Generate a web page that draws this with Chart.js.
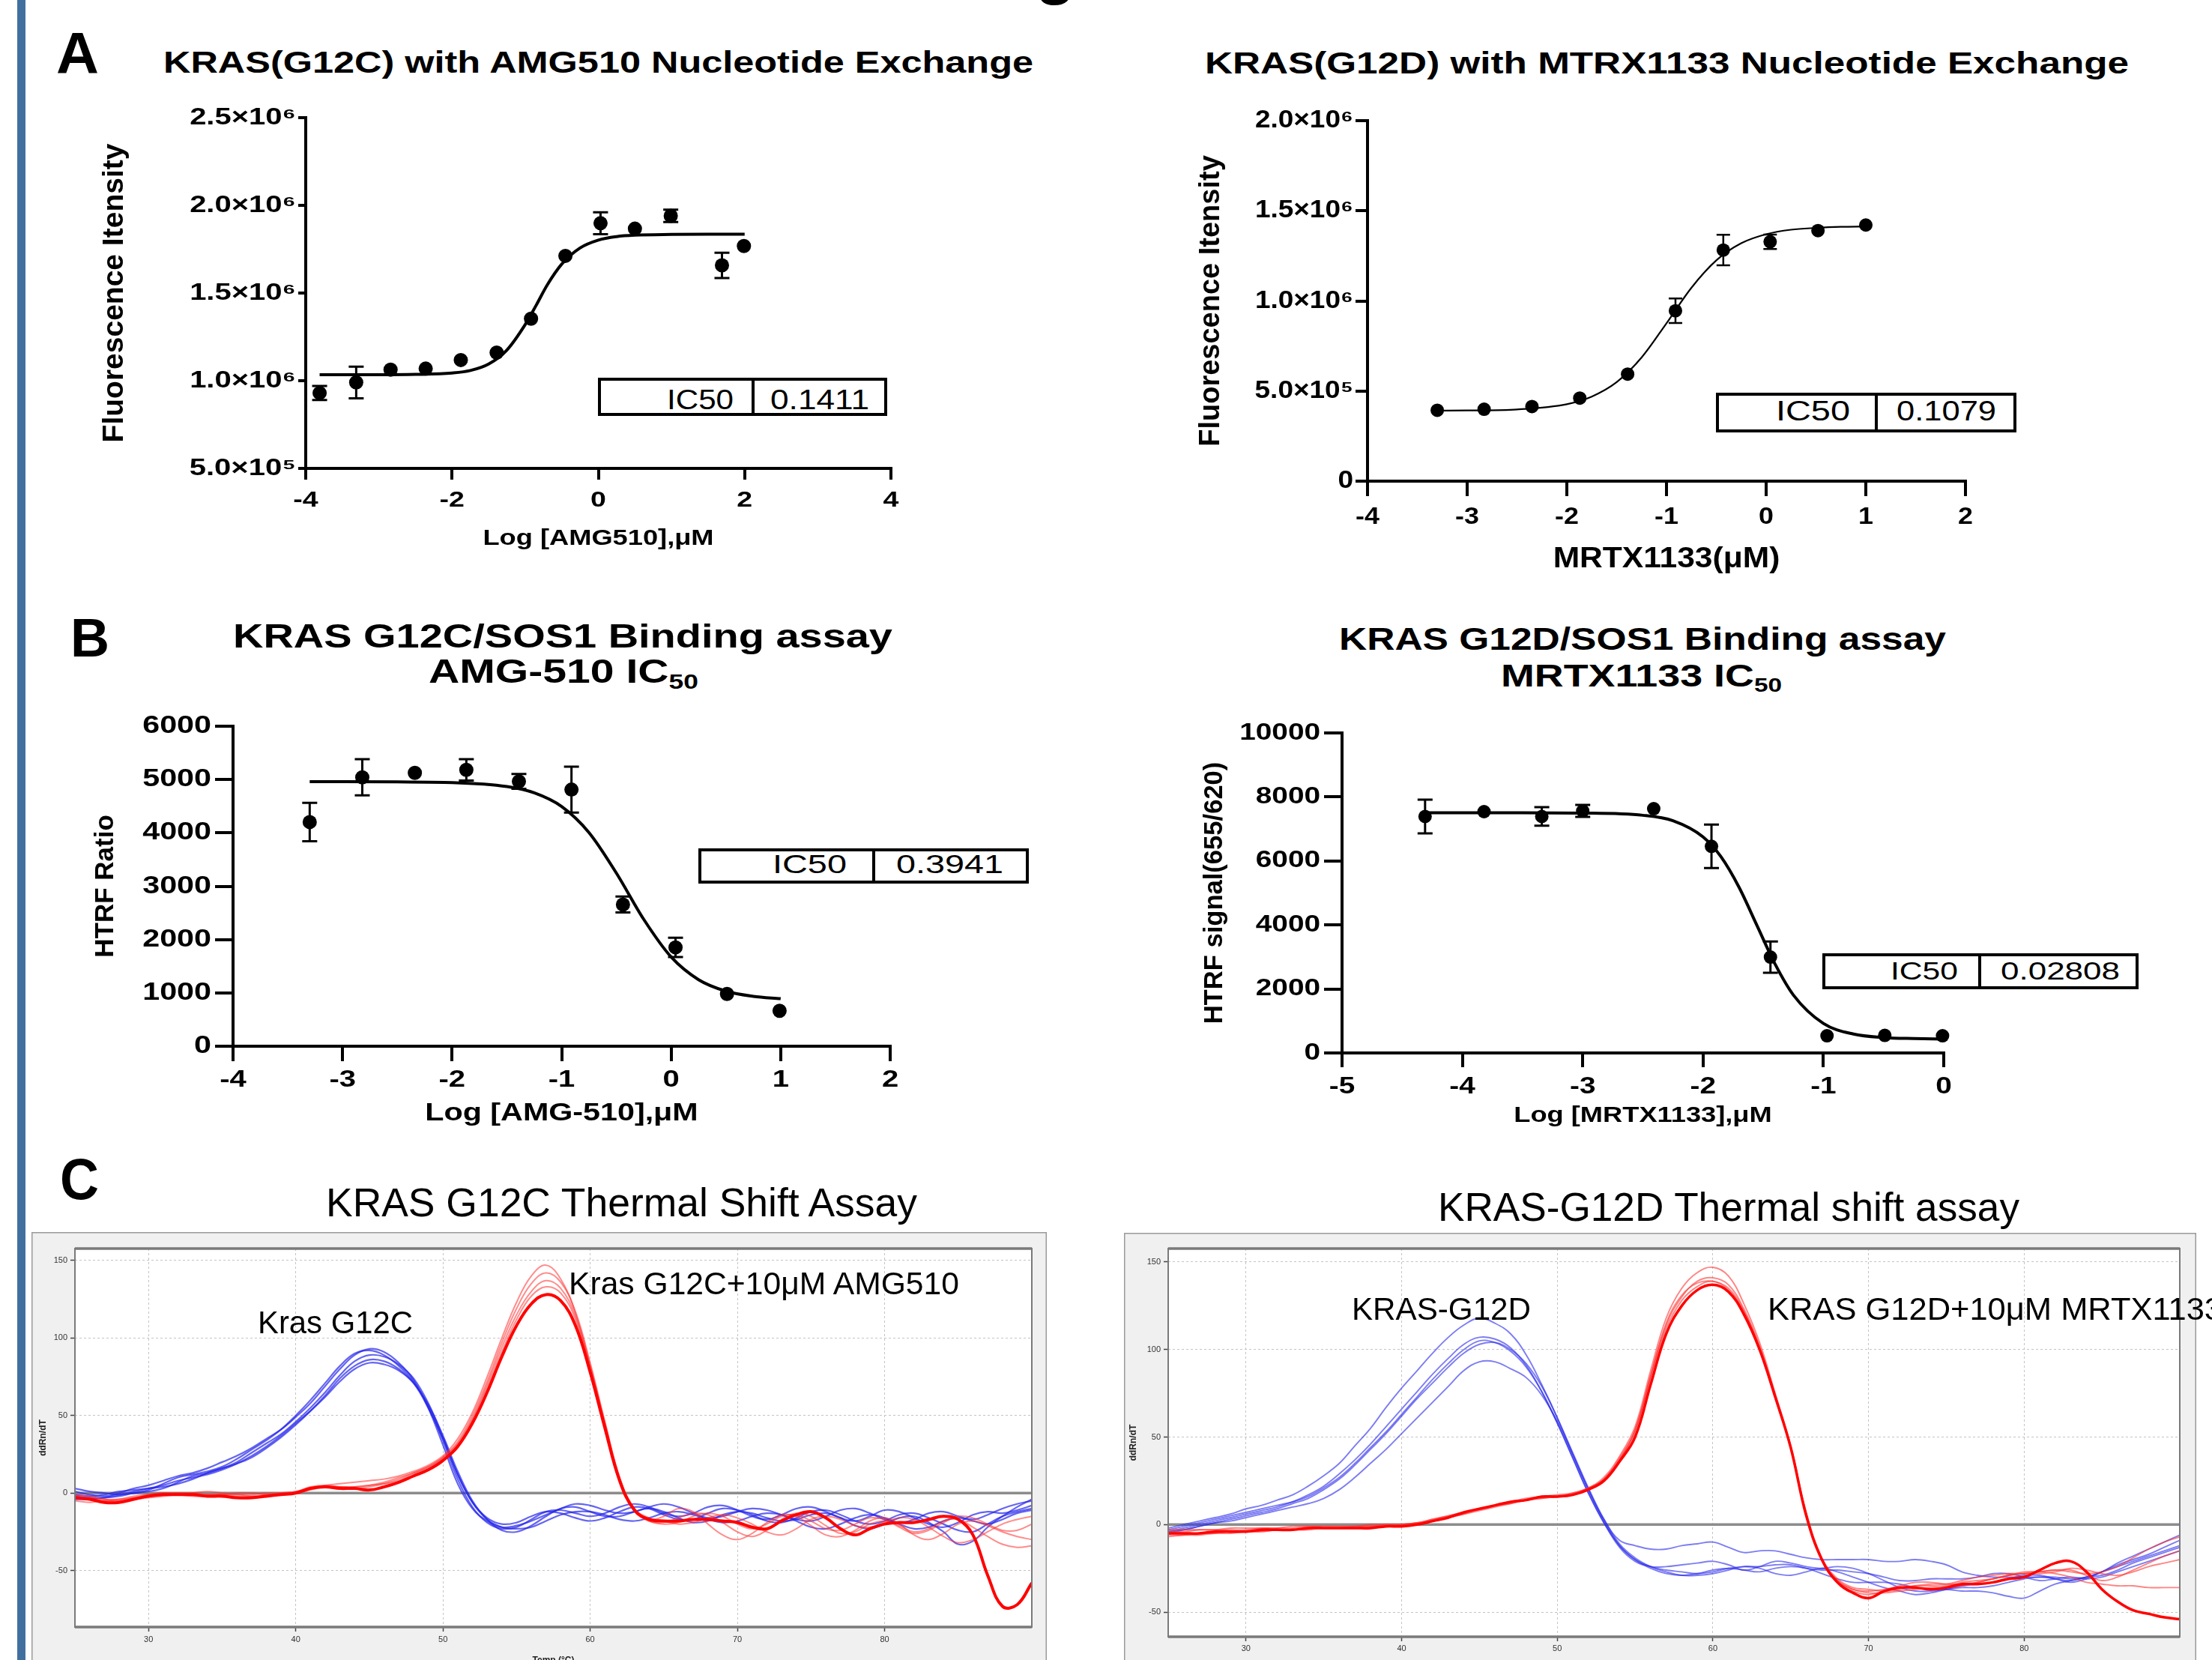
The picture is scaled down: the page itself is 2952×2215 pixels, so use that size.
<!DOCTYPE html>
<html><head><meta charset="utf-8">
<script src="https://cdn.jsdelivr.net/npm/chart.js@4.4.1/dist/chart.umd.min.js"></script>
<style>
html,body{margin:0;padding:0;background:#fff;}
body{width:2952px;height:2215px;overflow:hidden;position:relative;font-family:"Liberation Sans",Arial,sans-serif;}
.t{position:absolute;white-space:nowrap;line-height:1;color:#000;z-index:5;}
.t sub{font-size:0.62em;vertical-align:-0.28em;line-height:0;}
canvas.c{position:absolute;}
.box{position:absolute;border:4px solid #000;box-sizing:border-box;z-index:4;background:#fff;}
.bar{position:absolute;left:23px;top:0;width:11px;height:2215px;background:#41709e;}
</style></head><body>
<div class="bar"></div>
<script>
// ---------------- DATA ----------------
// Panel A left: KRAS(G12C) with AMG510 nucleotide exchange
const aL_x   = [-3.81,-3.31,-2.84,-2.36,-1.88,-1.39,-0.92,-0.45,0.03,0.50,0.99,1.69,1.99];
const aL_y   = [0.930e6,0.990e6,1.063e6,1.069e6,1.118e6,1.160e6,1.354e6,1.712e6,1.898e6,1.867e6,1.940e6,1.658e6,1.768e6];
const aL_err = [0.040e6,0.090e6,0,0,0,0,0,0,0.062e6,0,0.035e6,0.072e6,0];
const aL_fitX = [-3.81,-3.0,-2.5,-2.0,-1.75,-1.5,-1.25,-1.0,-0.85,-0.7,-0.5,-0.25,0,0.25,0.5,1.0,1.5,2.0];
const aL_fitY = [1.034e6,1.034e6,1.036e6,1.044e6,1.058e6,1.095e6,1.175e6,1.320e6,1.430e6,1.545e6,1.665e6,1.757e6,1.802e6,1.822e6,1.830e6,1.834e6,1.835e6,1.835e6];
const aL_xTicks = [-4,-2,0,2,4];
const aL_yTicks = [5e5,1e6,1.5e6,2e6,2.5e6];
const aL_yLabels = ['5.0×10⁵','1.0×10⁶','1.5×10⁶','2.0×10⁶','2.5×10⁶'];

// Panel A right: KRAS(G12D) with MRTX1133 nucleotide exchange
const aR_x   = [-3.30,-2.83,-2.35,-1.87,-1.39,-0.91,-0.43,0.04,0.52,1.00];
const aR_y   = [0.393e6,0.399e6,0.414e6,0.461e6,0.594e6,0.945e6,1.282e6,1.328e6,1.390e6,1.421e6];
const aR_err = [0,0,0,0,0,0.068e6,0.085e6,0.040e6,0,0];
const aR_fitX = [-3.3,-3.0,-2.5,-2.0,-1.75,-1.5,-1.25,-1.0,-0.75,-0.5,-0.25,0,0.25,0.5,0.75,1.0];
const aR_fitY = [0.391e6,0.392e6,0.398e6,0.427e6,0.469e6,0.549e6,0.686e6,0.876e6,1.073e6,1.225e6,1.320e6,1.370e6,1.395e6,1.405e6,1.411e6,1.413e6];
const aR_xTicks = [-4,-3,-2,-1,0,1,2];
const aR_yTicks = [0,5e5,1e6,1.5e6,2e6];
const aR_yLabels = ['0','5.0×10⁵','1.0×10⁶','1.5×10⁶','2.0×10⁶'];

// Panel B left: KRAS G12C/SOS1 binding, AMG-510
const bL_x   = [-3.30,-2.82,-2.34,-1.87,-1.39,-0.91,-0.44,0.04,0.51,0.99];
const bL_y   = [4203,5042,5126,5182,4965,4811,2657,1853,979,664];
const bL_err = [360,340,0,200,140,430,150,180,0,0];
const bL_fitX = [-3.3,-3.0,-2.5,-2.0,-1.5,-1.25,-1.0,-0.75,-0.5,-0.25,0,0.25,0.5,0.75,1.0];
const bL_fitY = [4960,4959,4955,4944,4869,4751,4495,4006,3246,2378,1673,1248,1033,935,892];
const bL_xTicks = [-4,-3,-2,-1,0,1,2];
const bL_yTicks = [0,1000,2000,3000,4000,5000,6000];

// Panel B right: KRAS G12D/SOS1 binding, MRTX1133
const bR_x   = [-4.31,-3.82,-3.34,-3.00,-2.41,-1.93,-1.44,-0.97,-0.49,-0.01];
const bR_y   = [7389,7541,7389,7564,7634,6457,2995,536,548,536];
const bR_err = [525,0,290,185,0,680,490,0,0,0];
const bR_fitX = [-4.31,-3.5,-3.0,-2.5,-2.25,-2.0,-1.85,-1.7,-1.55,-1.4,-1.25,-1.0,-0.75,-0.5,-0.25,0];
const bR_fitY = [7506,7505,7497,7427,7256,6750,6126,5171,3968,2765,1813,922,590,481,450,436];
const bR_xTicks = [-5,-4,-3,-2,-1,0];
const bR_yTicks = [0,2000,4000,6000,8000,10000];

// Panel C: thermal shift derivative curves (ddRn/dT vs temperature)
const T = [25,26,27,28,29,30,31,32,33,34,35,36,37,38,39,40,41,42,43,44,45,46,47,48,49,50,51,52,53,54,55,56,57,58,59,60,61,62,63,64,65,66,67,68,69,70,71,72,73,74,75,76,77,78,79,80,81,82,83,84,85,86,87,88,89,90];
const thermXTicks = [30,40,50,60,70,80];
const thermYTicks = [-50,0,50,100,150];

const cL_blue1 = [1,-1,-2,0,3,5,8,11,13,16,20,24,29,35,41,49,58,69,80,89,93,91,84,73,55,31,6,-10,-18,-22,-21,-18,-14,-10,-7,-8,-11,-13,-12,-9,-7,-9,-13,-16,-15,-12,-10,-11,-14,-17,-18,-15,-11,-10,-13,-17,-19,-17,-13,-12,-15,-17,-14,-10,-7,-5];
const cL_blue2 = [3,1,0,-1,0,2,6,10,12,14,17,22,28,34,41,50,60,71,82,90,92,89,82,72,56,34,9,-9,-19,-23,-22,-17,-12,-11,-13,-15,-13,-9,-7,-9,-13,-15,-13,-9,-8,-11,-15,-17,-14,-10,-9,-12,-16,-18,-15,-11,-12,-16,-20,-22,-19,-14,-12,-13,-11,-8];
const cL_blue3 = [-2,-3,-3,-2,0,1,3,7,11,13,16,20,26,32,38,46,55,65,76,85,89,88,83,74,58,36,12,-6,-16,-20,-19,-15,-12,-13,-16,-18,-16,-12,-9,-10,-14,-17,-17,-13,-10,-11,-14,-18,-19,-16,-12,-11,-14,-18,-20,-18,-14,-13,-16,-20,-24,-25,-20,-15,-12,-10];
const cL_blue4 = [-4,-4,-3,-1,1,3,5,8,10,12,15,19,24,30,37,45,53,62,72,80,84,83,79,71,57,37,14,-5,-17,-24,-25,-21,-15,-10,-9,-12,-15,-15,-12,-10,-12,-16,-19,-18,-14,-12,-13,-16,-18,-17,-14,-13,-16,-21,-23,-20,-16,-15,-19,-25,-33,-31,-22,-15,-9,-4];
const cL_blue5 = [-1,-2,-1,1,2,3,4,6,9,13,16,19,23,29,36,44,53,63,74,82,86,85,80,71,55,35,12,-6,-17,-22,-23,-22,-18,-14,-12,-12,-14,-17,-18,-16,-13,-12,-14,-17,-19,-18,-15,-13,-14,-18,-22,-23,-20,-16,-14,-16,-20,-23,-22,-18,-16,-18,-20,-17,-13,-11];
const cL_red1  = [-3,-4,-6,-6,-4,-2,-1,-1,-1,-2,-2,-3,-3,-2,-1,0,3,4,3,3,2,4,7,11,15,21,30,45,65,88,108,122,128,124,108,78,42,8,-11,-17,-18,-18,-17,-17,-18,-19,-22,-23,-18,-14,-12,-16,-23,-27,-23,-20,-19,-19,-17,-15,-17,-27,-53,-73,-72,-58];
const cL_red2  = [-2,-3,-4,-4,-3,-1,0,0,-1,-1,-1,-2,-2,-1,0,1,3,5,6,7,8,9,11,14,18,24,35,52,75,100,123,140,147,138,116,82,45,10,-10,-17,-15,-10,-12,-20,-27,-30,-26,-19,-14,-15,-21,-27,-28,-24,-18,-16,-20,-27,-30,-26,-20,-18,-21,-25,-28,-30];
const cL_red3  = [-5,-6,-5,-4,-2,-1,0,-1,-2,-2,-1,0,0,-1,-1,0,2,4,4,4,5,7,10,13,17,23,33,50,72,97,119,135,142,136,117,84,46,10,-11,-18,-19,-16,-13,-14,-19,-25,-28,-24,-17,-13,-15,-21,-26,-25,-20,-18,-21,-25,-23,-18,-17,-22,-28,-33,-35,-34];
const cL_red4  = [-1,-2,-4,-5,-4,-3,-2,-1,0,1,0,-1,-1,0,0,1,4,5,4,3,4,6,9,13,17,23,32,48,70,94,115,130,137,132,114,82,45,9,-11,-18,-20,-19,-15,-13,-15,-20,-23,-20,-15,-14,-18,-23,-24,-20,-16,-17,-22,-26,-24,-19,-15,-16,-20,-24,-24,-20];
const cL_red5  = [-2,-4,-5,-5,-3,-2,-1,0,0,-1,-1,-1,-2,-2,-1,0,3,4,4,4,5,6,8,12,16,22,31,47,68,91,112,127,133,129,112,80,44,9,-10,-16,-18,-20,-19,-16,-14,-16,-20,-25,-27,-23,-17,-15,-17,-21,-22,-19,-16,-17,-22,-28,-32,-30,-25,-20,-17,-15];

const cR_blue1 = [-2,0,2,4,6,9,11,14,17,22,28,35,45,55,67,78,88,98,107,114,118,115,109,97,80,61,40,20,3,-9,-12,-14,-14,-12,-11,-10,-13,-16,-15,-15,-17,-19,-20,-20,-20,-20,-21,-21,-20,-21,-23,-27,-29,-30,-30,-30,-30,-30,-31,-30,-29,-26,-22,-19,-16,-13];
const cR_blue2 = [-4,-2,0,2,4,6,8,10,13,17,22,29,37,46,56,66,76,86,95,103,107,106,101,91,76,58,38,18,1,-12,-20,-24,-26,-27,-28,-27,-25,-24,-24,-23,-23,-25,-26,-26,-27,-28,-30,-32,-32,-31,-31,-31,-30,-28,-28,-30,-32,-31,-30,-31,-30,-27,-24,-21,-18,-15];
const cR_blue3 = [-3,-1,1,3,5,7,9,11,13,16,21,27,35,44,53,63,73,83,92,100,105,104,99,90,76,58,38,18,1,-13,-21,-24,-24,-23,-22,-21,-23,-26,-24,-21,-22,-24,-25,-24,-25,-28,-32,-36,-38,-38,-37,-36,-36,-35,-33,-31,-30,-31,-32,-30,-27,-24,-21,-18,-15,-12];
const cR_blue4 = [-5,-3,-1,1,3,5,7,9,12,15,20,26,34,43,52,62,72,81,90,98,103,104,100,92,79,61,41,21,3,-11,-19,-24,-27,-29,-29,-28,-26,-24,-25,-28,-29,-27,-25,-27,-30,-33,-36,-38,-40,-39,-37,-35,-34,-33,-31,-29,-29,-31,-33,-31,-27,-23,-20,-17,-13,-9];
const cR_blue5 = [-4,-3,-1,1,2,4,6,8,10,12,15,20,27,35,43,52,61,70,79,88,93,93,89,84,74,59,40,20,2,-12,-20,-25,-28,-29,-28,-26,-25,-26,-27,-25,-24,-25,-28,-31,-33,-33,-33,-34,-36,-37,-37,-38,-38,-39,-41,-42,-38,-34,-32,-30,-27,-22,-18,-14,-10,-6];
const cR_red1  = [-5,-5,-5,-4,-4,-4,-3,-3,-3,-2,-2,-2,-2,-2,-1,-1,0,2,4,7,9,11,13,14,16,16,17,20,25,36,50,80,109,125,134,137,133,120,100,73,44,5,-20,-33,-39,-42,-38,-36,-36,-37,-36,-34,-34,-33,-31,-30,-26,-22,-21,-27,-37,-44,-49,-51,-53,-54];
const cR_red2  = [-4,-4,-3,-3,-3,-3,-2,-2,-2,-1,-1,-1,-1,-1,0,0,1,3,5,7,9,11,13,15,16,17,18,21,27,39,56,88,118,135,144,147,142,126,104,75,45,7,-19,-31,-36,-37,-38,-37,-35,-34,-34,-32,-30,-29,-28,-28,-27,-26,-27,-28,-27,-24,-19,-14,-10,-7];
const cR_red3  = [-6,-6,-5,-5,-4,-4,-4,-3,-3,-3,-2,-2,-2,-1,-1,-1,0,2,4,6,9,11,12,14,15,16,17,20,26,37,54,85,114,130,139,141,137,123,102,74,44,6,-20,-32,-37,-38,-37,-35,-33,-33,-34,-34,-33,-31,-29,-27,-27,-28,-30,-33,-34,-35,-35,-36,-36,-36];
const cR_red4  = [-3,-3,-3,-3,-2,-2,-2,-2,-1,-1,-1,-1,-1,0,0,0,1,3,5,7,9,11,13,14,16,16,18,21,26,38,54,85,115,131,138,139,135,122,101,74,44,6,-20,-32,-37,-39,-39,-38,-37,-36,-36,-35,-33,-31,-29,-28,-28,-27,-25,-26,-28,-29,-27,-24,-22,-20];
const cR_red5  = [-7,-6,-6,-5,-5,-4,-4,-3,-3,-2,-2,-2,-1,-1,-1,0,1,2,4,6,8,10,12,14,15,16,17,20,25,37,53,84,112,128,136,139,134,121,100,73,44,6,-20,-33,-38,-40,-38,-36,-35,-35,-35,-33,-32,-31,-29,-28,-27,-26,-26,-29,-32,-30,-26,-22,-18,-15];

// ---------------- HELPERS ----------------
Chart.defaults.font.family = '"Liberation Sans", Arial, sans-serif';
Chart.defaults.color = '#000';

function addCanvas(left, top, w, h) {
  const c = document.createElement('canvas');
  c.width = w; c.height = h; c.className = 'c';
  c.style.left = left + 'px'; c.style.top = top + 'px';
  c.style.width = w + 'px'; c.style.height = h + 'px';
  document.body.appendChild(c);
  return c;
}

// horizontally widened text rendering (the reference figure's lettering is stretched)
const stretchPlugin = {
  id: 'stretch',
  beforeInit(chart, args, opts) {
    const k = (opts && opts.k) || 1;
    const ctx = chart.ctx;
    if (k === 1 || ctx.__patched) return;
    ctx.__patched = true;
    const orig = ctx.fillText;
    ctx.fillText = function (t, x, y, mw) {
      const m = this.getTransform();
      if (Math.abs(m.b) < 1e-9 && Math.abs(m.c) < 1e-9) {
        this.save(); this.translate(x, y); this.scale(k, 1);
        orig.call(this, t, 0, 0);
        this.restore();
      } else {
        orig.call(this, t, x, y, mw);
      }
    };
  }
};

const errPlugin = {
  id: 'errbars',
  beforeDatasetsDraw(chart, args, opts) {
    const ctx = chart.ctx, xs = chart.scales.x, ys = chart.scales.y;
    chart.data.datasets.forEach(ds => {
      if (!ds.errors) return;
      ctx.save();
      ctx.strokeStyle = '#000'; ctx.lineWidth = opts.lw || 3;
      const cap = opts.cap || 10;
      ds.data.forEach((p, j) => {
        const e = ds.errors[j];
        if (!e) return;
        const x = xs.getPixelForValue(p.x);
        const y1 = ys.getPixelForValue(p.y + e), y2 = ys.getPixelForValue(p.y - e);
        ctx.beginPath();
        ctx.moveTo(x, y1); ctx.lineTo(x, y2);
        ctx.moveTo(x - cap, y1); ctx.lineTo(x + cap, y1);
        ctx.moveTo(x - cap, y2); ctx.lineTo(x + cap, y2);
        ctx.stroke();
      });
      ctx.restore();
    });
  }
};

function doseChart(o) {
  const cv = addCanvas(o.left, o.top, o.w, o.h);
  const datasets = [
    { type: 'line', data: o.fitX.map((x, i) => ({ x, y: o.fitY[i] })), borderColor: '#000', borderWidth: o.lw,
      pointRadius: 0, cubicInterpolationMode: 'monotone', fill: false, order: 2 },
    { type: 'scatter', data: o.xs.map((x, i) => ({ x, y: o.ys[i] })), errors: o.err, backgroundColor: '#000',
      borderColor: '#000', borderWidth: 0, pointRadius: o.pr, clip: false, order: 1 }
  ];
  new Chart(cv, {
    type: 'scatter',
    data: { datasets },
    options: {
      responsive: false, animation: false, events: [],
      layout: { padding: { left: 0, top: o.padT, right: o.padR, bottom: 0 } },
      plugins: { legend: { display: false }, tooltip: { enabled: false }, stretch: { k: o.k },
                 errbars: { lw: o.elw, cap: o.cap } },
      scales: {
        x: {
          type: 'linear', min: o.xTicks[0], max: o.xTicks[o.xTicks.length - 1],
          afterBuildTicks: s => { s.ticks = o.xTicks.map(v => ({ value: v })); },
          afterFit: s => { s.height = o.xH; },
          grid: { drawOnChartArea: false, drawTicks: true, tickLength: o.xTL, lineWidth: o.aw, tickWidth: o.aw, color: '#000', tickColor: '#000' },
          border: { display: true, width: o.aw, color: '#000' },
          ticks: { font: { size: o.xtFs, weight: 'bold' }, color: '#000', padding: o.xtPad, maxRotation: 0, autoSkip: false,
                   callback: v => String(v) },
          title: { display: true, text: o.xTitle, font: { size: o.xTitleFs, weight: 'bold' }, color: '#000',
                   padding: { top: 0, bottom: o.xTitlePadB } }
        },
        y: {
          type: 'linear', min: o.yTicks[0], max: o.yTicks[o.yTicks.length - 1],
          afterBuildTicks: s => { s.ticks = o.yTicks.map(v => ({ value: v })); },
          afterFit: s => { s.width = o.yW; },
          grid: { drawOnChartArea: false, drawTicks: true, tickLength: o.yTL, lineWidth: o.aw, tickWidth: o.aw, color: '#000', tickColor: '#000' },
          border: { display: true, width: o.aw, color: '#000' },
          ticks: { font: { size: o.ytFs, weight: 'bold' }, color: '#000', padding: o.ytPad, autoSkip: false,
                   callback: (v, i) => (o.yLabels ? o.yLabels[i] : String(v)) },
          title: { display: true, text: o.yTitle, font: { size: o.yTitleFs, weight: 'bold' }, color: '#000',
                   padding: { top: o.yTitlePadT, bottom: 0 } }
        }
      }
    },
    plugins: [stretchPlugin, errPlugin]
  });
}

const framePlugin = {
  id: 'frame',
  beforeDraw(chart) {
    const { ctx, chartArea: a, width, height } = chart;
    ctx.save();
    ctx.fillStyle = '#f0f0f0'; ctx.fillRect(0, 0, width, height);
    ctx.strokeStyle = '#9a9a9a'; ctx.lineWidth = 1.5; ctx.strokeRect(0.75, 0.75, width - 1.5, height - 1.5);
    ctx.fillStyle = '#fff'; ctx.fillRect(a.left, a.top, a.right - a.left, a.bottom - a.top);
    ctx.restore();
  },
  beforeDatasetsDraw(chart) {
    const { ctx, chartArea: a } = chart;
    const y0 = chart.scales.y.getPixelForValue(0);
    ctx.save(); ctx.strokeStyle = '#8c8c8c'; ctx.lineWidth = 3.5;
    ctx.beginPath(); ctx.moveTo(a.left, y0); ctx.lineTo(a.right, y0); ctx.stroke(); ctx.restore();
  },
  afterDraw(chart) {
    const { ctx, chartArea: a } = chart;
    ctx.save(); ctx.strokeStyle = '#7a7a7a';
    ctx.lineWidth = 2; ctx.strokeRect(a.left, a.top, a.right - a.left, a.bottom - a.top);
    ctx.lineWidth = 3.5;
    ctx.beginPath(); ctx.moveTo(a.left, a.top); ctx.lineTo(a.right, a.top);
    ctx.moveTo(a.left, a.bottom); ctx.lineTo(a.right, a.bottom); ctx.stroke();
    ctx.restore();
  }
};

function thermChart(o) {
  const cv = addCanvas(o.left, o.top, o.w, o.h);
  const ds = [];
  const mk = (arr, color, w, order) => ({ type: 'line', data: T.map((t, i) => ({ x: t, y: arr[i] })), borderColor: color,
    borderWidth: w, pointRadius: 0, tension: 0.4, fill: false, order });
  o.blue.forEach(a => ds.push(mk(a, o.blueC, o.blueW, 3)));
  o.redThin.forEach(a => ds.push(mk(a, o.redC, o.redW, 2)));
  ds.push(mk(o.redThick, '#ff0000', o.thickW, 1));
  const grid = { color: '#c4c4c4', lineWidth: 1, drawTicks: true, tickLength: 6, tickColor: '#444', tickWidth: 1.5, tickBorderDash: [] };
  new Chart(cv, {
    type: 'line',
    data: { datasets: ds },
    options: {
      responsive: false, animation: false, events: [],
      layout: { padding: { left: 0, top: o.padT, right: o.padR, bottom: 0 } },
      plugins: { legend: { display: false }, tooltip: { enabled: false } },
      scales: {
        x: { type: 'linear', min: 25, max: 90,
             afterBuildTicks: s => { s.ticks = thermXTicks.map(v => ({ value: v })); },
             afterFit: s => { s.height = o.xH; },
             grid, border: { display: false, dash: [3, 3] },
             ticks: { font: { size: 11 }, color: '#333', padding: o.xtPad, maxRotation: 0, autoSkip: false },
             title: { display: true, text: 'Temp (°C)', font: { size: 12, weight: 'bold' }, color: '#222', padding: { top: 0, bottom: o.xTitlePadB } } },
        y: { type: 'linear', min: o.ymin, max: o.ymax,
             afterBuildTicks: s => { s.ticks = thermYTicks.map(v => ({ value: v })); },
             afterFit: s => { s.width = o.yW; },
             grid, border: { display: false, dash: [3, 3] },
             ticks: { font: { size: 11 }, color: '#333', padding: 4, autoSkip: false },
             title: { display: true, text: 'ddRn/dT', font: { size: 12, weight: 'bold' }, color: '#222', padding: { top: o.yTitlePadT, bottom: 0 } } }
      }
    },
    plugins: [framePlugin]
  });
}

function txt(html, o) {
  const d = document.createElement('div');
  d.className = 't'; d.innerHTML = html;
  d.style.fontSize = o.size + 'px';
  d.style.fontWeight = o.bold ? 'bold' : 'normal';
  d.style.top = (o.base - 0.8465 * o.size) + 'px';
  d.style.left = o.left + 'px';
  document.body.appendChild(d);
  const w = d.getBoundingClientRect().width;
  const sx = o.w ? o.w / w : 1;
  d.style.transformOrigin = '0 0';
  d.style.transform = 'scaleX(' + sx + ')';
  return d;
}

function ic50Box(o) {
  const b = document.createElement('div');
  b.className = 'box';
  b.style.left = o.l + 'px'; b.style.top = o.t + 'px';
  b.style.width = (o.r - o.l) + 'px'; b.style.height = (o.b - o.t) + 'px';
  document.body.appendChild(b);
  const dv = document.createElement('div');
  dv.style.cssText = 'position:absolute;z-index:5;background:#000;width:4px;left:' + (o.d - 2) + 'px;top:' + o.t + 'px;height:' + (o.b - o.t) + 'px';
  document.body.appendChild(dv);
  txt('IC50', { left: o.lab[0], w: o.lab[1], base: o.base, size: o.fs });
  txt(o.val, { left: o.vl[0], w: o.vl[1], base: o.base, size: o.fs });
}

// ---------------- CHARTS ----------------
doseChart({ left: 60, top: 120, w: 1200, h: 650, padT: 37, padR: 71, yW: 348, xH: 145,
  xs: aL_x, ys: aL_y, err: aL_err, fitX: aL_fitX, fitY: aL_fitY, xTicks: aL_xTicks, yTicks: aL_yTicks, yLabels: aL_yLabels,
  lw: 4, pr: 9.5, elw: 3, cap: 10, aw: 4, k: 1.25,
  xTL: 15, xtFs: 30, xtPad: 10, yTL: 10, ytFs: 32, ytPad: 3,
  xTitle: 'Log [AMG510],μM', xTitleFs: 29, xTitlePadB: 34,
  yTitle: 'Fluorescence Itensity', yTitleFs: 39, yTitlePadT: 70 });

doseChart({ left: 1540, top: 120, w: 1140, h: 680, padT: 41, padR: 57, yW: 285, xH: 158,
  xs: aR_x, ys: aR_y, err: aR_err, fitX: aR_fitX, fitY: aR_fitY, xTicks: aR_xTicks, yTicks: aR_yTicks, yLabels: aR_yLabels,
  lw: 2.2, pr: 9, elw: 2.5, cap: 9, aw: 4, k: 1.12,
  xTL: 20, xtFs: 32, xtPad: 9, yTL: 16, ytFs: 33, ytPad: 3,
  xTitle: 'MRTX1133(μM)', xTitleFs: 38, xTitlePadB: 31,
  yTitle: 'Fluorescence Itensity', yTitleFs: 38, yTitlePadT: 54 });

doseChart({ left: 40, top: 930, w: 1220, h: 600, padT: 39, padR: 72, yW: 271, xH: 134,
  xs: bL_x, ys: bL_y, err: bL_err, fitX: bL_fitX, fitY: bL_fitY, xTicks: bL_xTicks, yTicks: bL_yTicks,
  lw: 4, pr: 9.5, elw: 3, cap: 10, aw: 4, k: 1.25,
  xTL: 20, xtFs: 32, xtPad: 6, yTL: 24, ytFs: 33, ytPad: 5,
  xTitle: 'Log [AMG-510],μM', xTitleFs: 33, xTitlePadB: 24,
  yTitle: 'HTRF Ratio', yTitleFs: 35, yTitlePadT: 80 });

doseChart({ left: 1560, top: 930, w: 1100, h: 600, padT: 48, padR: 66, yW: 231, xH: 125,
  xs: bR_x, ys: bR_y, err: bR_err, fitX: bR_fitX, fitY: bR_fitY, xTicks: bR_xTicks, yTicks: bR_yTicks,
  lw: 4, pr: 9, elw: 3, cap: 10, aw: 4, k: 1.25,
  xTL: 19, xtFs: 31, xtPad: 8, yTL: 24, ytFs: 31, ytPad: 5,
  xTitle: 'Log [MRTX1133],μM', xTitleFs: 29, xTitlePadB: 24,
  yTitle: 'HTRF signal(655/620)', yTitleFs: 34.6, yTitlePadT: 41 });

thermChart({ left: 42, top: 1644, w: 1355, h: 600, padT: 22, padR: 20, yW: 58, xH: 73, ymin: -86.4, ymax: 157.7,
  xtPad: 4, xTitlePadB: 21, yTitlePadT: 8,
  blue: [cL_blue1, cL_blue2, cL_blue3, cL_blue4, cL_blue5], redThin: [cL_red2, cL_red3, cL_red4, cL_red5], redThick: cL_red1,
  blueC: 'rgba(35,35,235,0.7)', blueW: 2.2, redC: 'rgba(255,45,45,0.55)', redW: 2, thickW: 4 });

thermChart({ left: 1500, top: 1645, w: 1431, h: 600, padT: 21, padR: 22, yW: 59, xH: 61, ymin: -64.1, ymax: 157.7,
  xtPad: 3.5, xTitlePadB: 12, yTitlePadT: 5,
  blue: [cR_blue1, cR_blue2, cR_blue3, cR_blue4, cR_blue5], redThin: [cR_red2, cR_red3, cR_red4, cR_red5], redThick: cR_red1,
  blueC: 'rgba(45,45,235,0.62)', blueW: 1.9, redC: 'rgba(255,50,50,0.6)', redW: 1.9, thickW: 3.5 });

// ---------------- TEXT ----------------
txt('g', { left: 1381, base: -12, size: 90, bold: true });
txt('A', { left: 75, base: 98, size: 78, bold: true, w: 57 });
txt('KRAS(G12C) with AMG510 Nucleotide Exchange', { left: 218, base: 97, size: 40, bold: true, w: 1161 });
txt('KRAS(G12D) with MTRX1133 Nucleotide Exchange', { left: 1608, base: 98, size: 40, bold: true, w: 1233 });
txt('B', { left: 94, base: 876, size: 72, bold: true, w: 52 });
txt('KRAS G12C/SOS1 Binding assay', { left: 311, base: 864, size: 44, bold: true, w: 880 });
txt('AMG-510 IC<sub>50</sub>', { left: 572, base: 911, size: 44, bold: true, w: 360 });
txt('KRAS G12D/SOS1 Binding assay', { left: 1787, base: 868, size: 42, bold: true, w: 810 });
txt('MRTX1133 IC<sub>50</sub>', { left: 2003, base: 917, size: 42, bold: true, w: 375 });
txt('C', { left: 80, base: 1600, size: 78, bold: true, w: 52 });
txt('KRAS G12C Thermal Shift Assay', { left: 435, base: 1623, size: 54, w: 789 });
txt('KRAS-G12D Thermal shift assay', { left: 1919, base: 1629, size: 53, w: 776 });
txt('Kras G12C', { left: 344, base: 1780, size: 42, w: 207 });
txt('Kras G12C+10μM AMG510', { left: 759, base: 1728, size: 42, w: 521 });
txt('KRAS-G12D', { left: 1804, base: 1762, size: 42, w: 239 });
txt('KRAS G12D+10μM MRTX1133', { left: 2359, base: 1762, size: 42, w: 607 });

ic50Box({ l: 798, t: 504, r: 1184, b: 555, d: 1005, lab: [890, 89], val: '0.1411', vl: [1028, 132], base: 546, fs: 36 });
ic50Box({ l: 2290, t: 524, r: 2691, b: 577, d: 2504, lab: [2370, 99], val: '0.1079', vl: [2531, 133], base: 561, fs: 36 });
ic50Box({ l: 932, t: 1132, r: 1373, b: 1179, d: 1166, lab: [1031, 99], val: '0.3941', vl: [1196, 143], base: 1165, fs: 35 });
ic50Box({ l: 2432, t: 1272, r: 2854, b: 1320, d: 2642, lab: [2523, 90], val: '0.02808', vl: [2670, 159], base: 1307, fs: 33 });
</script>
</body></html>
